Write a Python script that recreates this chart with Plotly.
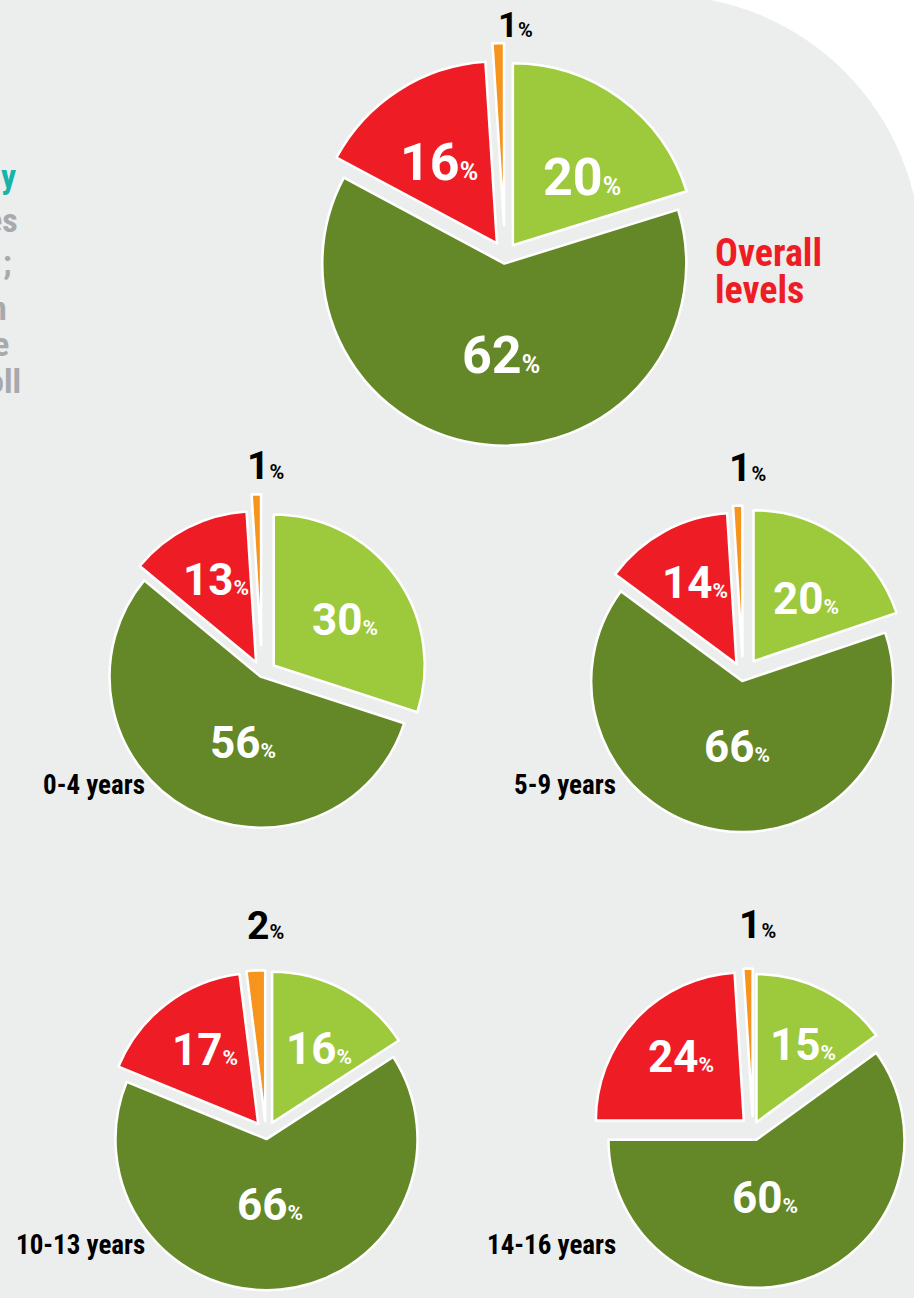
import math
import plotly.graph_objects as go

# ---------------- data ----------------
categories = ["Light green", "Dark green", "Red", "Orange"]
groups = ["Overall levels", "0-4 years", "5-9 years", "10-13 years", "14-16 years"]
overall = [20, 62, 16, 1]
years_0_4 = [30, 56, 13, 1]
years_5_9 = [20, 66, 14, 1]
years_10_13 = [16, 66, 17, 2]
years_14_16 = [15, 60, 24, 1]
values = [overall, years_0_4, years_5_9, years_10_13, years_14_16]

# ---------------- style / layout ----------------
W, H = 914, 1298
BG = "#eceeed"
COLORS = ["#9dc93c", "#648828", "#ee1d25", "#f7941d"]
NUM_FONT = "Roboto, Liberation Sans, sans-serif"
LBL_FONT = "Liberation Sans Narrow, Roboto Condensed, Arial Narrow, Roboto, sans-serif"

# pixel centre, radius, pulls per pie
PIE_CX = [505, 262, 743, 266, 753]
PIE_CY = [256, 674, 676, 1134, 1129]
PIE_R = [182, 151, 151, 151, 148]
PIE_PULL = [
    [0.073, 0.042, 0.082, 0.17],
    [0.096, 0.02, 0.087, 0.19],
    [0.12, 0.034, 0.09, 0.13],
    [0.085, 0.034, 0.085, 0.085],
    [0.052, 0.076, 0.085, 0.085],
]
# inside label placement: distance (fraction of radius) and angular tweak per category
LABEL_FRAC = [0.64, 0.5, 0.67]
LABEL_DANG = [5, 0, 0]          # degrees added to the slice bisector
DARK_BLEND = 0.5                # dark-green label angle is pulled half-way towards straight down
LABEL_YSHIFT = [-9, 4, 4, 4, 4]
NUM_SIZE = [52, 44, 44, 44, 44]
PCT_SIZE = [25, 21, 21, 21, 21]
OUT_SIZE = [35, 39, 39, 39, 39]
OUT_PCT = [20, 20, 20, 20, 20]
OUT_DX = [-2, -11, -11, -11, -11]
OUT_R = [1.145, 1.21, 1.21, 1.21, 1.21]


def clamp(v):
    return max(0.0, min(1.0, v))


def pct_text(v, ps):
    return f"<b>{v}<span style='font-size:{ps}px'>%</span></b>"


fig = go.Figure()
annotations = []
for i, vals in enumerate(values):
    cx, cy, r = PIE_CX[i], PIE_CY[i], PIE_R[i]
    pulls = PIE_PULL[i]
    half = r * (1 + max(pulls))
    dom_x = [clamp((cx - half) / W), clamp((cx + half) / W)]
    dom_y = [clamp(1 - (cy + half) / H), clamp(1 - (cy - half) / H)]
    fig.add_trace(go.Pie(
        labels=categories,
        values=vals,
        textinfo="none",
        sort=False,
        direction="clockwise",
        rotation=0,
        pull=pulls,
        marker=dict(colors=COLORS, line=dict(color="white", width=2.5)),
        domain=dict(x=dom_x, y=dom_y),
        showlegend=False,
        hoverinfo="label+value",
        name=groups[i],
    ))
    tot = sum(vals)
    cum = 0
    for j, v in enumerate(vals):
        mid = 360.0 * (cum + v / 2) / tot
        cum += v
        if j < 3:
            ang = mid + LABEL_DANG[j]
            if j == 1:
                ang = mid + DARK_BLEND * (180 - mid)
            a = math.radians(ang)
            d = LABEL_FRAC[j] * r
            lx = cx + d * math.sin(a)
            ly = cy - d * math.cos(a)
            annotations.append(dict(
                x=lx / W, y=1 - ly / H, xref="paper", yref="paper",
                text=pct_text(v, PCT_SIZE[i]), showarrow=False,
                xanchor="center", yanchor="middle", yshift=LABEL_YSHIFT[i],
                font=dict(family=NUM_FONT, size=NUM_SIZE[i], color="white")))
        else:
            # small orange slice: black label just above its tip
            a = math.radians(mid)
            rr = r * (1 + pulls[j])
            tip_x = cx + rr * math.sin(a)
            lab_y = cy - r * OUT_R[i]
            annotations.append(dict(
                x=(tip_x + OUT_DX[i]) / W, y=1 - lab_y / H,
                xref="paper", yref="paper",
                text=pct_text(v, OUT_PCT[i]), showarrow=False,
                xanchor="left", yanchor="bottom",
                font=dict(family=NUM_FONT, size=OUT_SIZE[i], color="black")))

# group labels
for t, yc in [("Overall", 253), ("levels", 290)]:
    annotations.append(dict(x=713 / W, y=1 - yc / H, xref="paper", yref="paper",
                            text=f"<b>{t}</b>", showarrow=False, height=36,
                            xanchor="left", yanchor="middle", align="left",
                            font=dict(family=LBL_FONT, size=38, color="#ee1d25")))
for label, xr, yc in [(groups[1], 147, 785), (groups[2], 618, 785),
                      (groups[3], 147, 1245), (groups[4], 618, 1245)]:
    annotations.append(dict(x=xr / W, y=1 - yc / H, xref="paper", yref="paper",
                            text=f"<b>{label}</b>", showarrow=False,
                            xanchor="right", yanchor="middle",
                            font=dict(family=LBL_FONT, size=27, color="black")))

# cut-off paragraph at the left edge
left_text = ["y", "es", ";", "n", "e", "oll"]
left_colors = ["#17b3a9", "#a7a9ac", "#a7a9ac", "#a7a9ac", "#a7a9ac", "#a7a9ac"]
left_right = [18, 20, 14, 9, 11, 23]
left_y = [176, 220, 262, 308, 344, 381]
for t, c, xr, yc in zip(left_text, left_colors, left_right, left_y):
    annotations.append(dict(x=xr / W, y=1 - yc / H, xref="paper", yref="paper",
                            text=f"<b>{t}</b>", showarrow=False,
                            xanchor="right", yanchor="middle",
                            font=dict(family=LBL_FONT, size=34, color=c)))

# background: grey panel with a large rounded top-right corner
ccx, ccy, cr = 660, 256, 261
shapes = [
    dict(type="rect", xref="paper", yref="paper", layer="below",
         x0=ccx / W, x1=1.05, y0=1 - ccy / H, y1=1.05,
         fillcolor="white", line=dict(width=0)),
    dict(type="circle", xref="paper", yref="paper", layer="below",
         x0=(ccx - cr) / W, x1=(ccx + cr) / W,
         y0=1 - (ccy + cr) / H, y1=1 - (ccy - cr) / H,
         fillcolor=BG, line=dict(width=0)),
]

fig.update_layout(
    width=W, height=H,
    margin=dict(l=0, r=0, t=0, b=0, autoexpand=False),
    paper_bgcolor=BG,
    plot_bgcolor=BG,
    annotations=annotations,
    shapes=shapes,
)

fig.write_html("out.html", config={"displayModeBar": False},
               post_script="document.body.style.margin='0';")
